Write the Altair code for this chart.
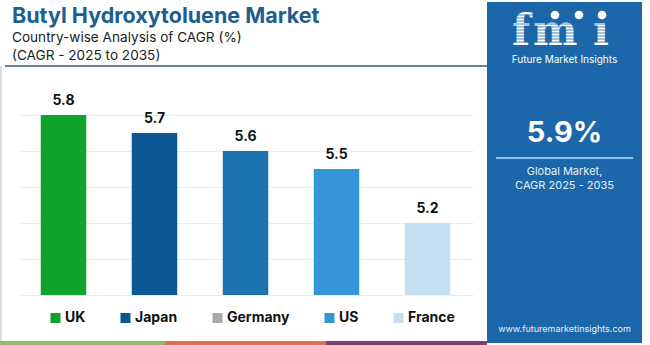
import altair as alt
import pandas as pd

# ---- data ----
countries = ["UK", "Japan", "Germany", "US", "France"]
cagr = [5.8, 5.7, 5.6, 5.5, 5.2]
bar_colors = ["#0fa32e", "#0b5894", "#1d72b0", "#3495d7", "#c3dff1"]
legend_colors = ["#0fa32e", "#0b5894", "#a9a9a9", "#3495d7", "#c3dff1"]
grid_ticks = [4.8, 5.0, 5.2, 5.4, 5.6, 5.8]
y_domain = [4.8, 6.0]

title_text = "Butyl Hydroxytoluene Market"
subtitle_lines = ["Country-wise Analysis of CAGR (%)", "(CAGR - 2025 to 2035)"]
global_cagr = "5.9%"
panel_lines = ["Global Market,", "CAGR 2025 - 2035"]
brand = "Future Market Insights"
website = "www.futuremarketinsights.com"
stripe_colors = ["#8dbf62", "#e16f4e", "#7b3b7d"]

FONT = "Inter"
PANEL = "#1b67a9"

df = pd.DataFrame({"country": countries, "cagr": cagr, "fill": bar_colors})
one = pd.DataFrame({"k": [0]})

x_enc = alt.X("country:N", sort=countries,
              scale=alt.Scale(paddingInner=0.5, paddingOuter=0.25), axis=None)
y_enc = alt.Y("cagr:Q", scale=alt.Scale(domain=y_domain, zero=False, nice=False),
              axis=alt.Axis(values=grid_ticks, labels=False, ticks=False, domain=False,
                            title=None, grid=True, gridColor="#ececec", gridWidth=1))

bars = alt.Chart(df).mark_bar().encode(
    x=x_enc, y=y_enc, y2=alt.datum(4.8),
    fill=alt.Fill("fill:N", scale=None),
)

labels = alt.Chart(df).mark_text(
    dy=-10, baseline="alphabetic", font=FONT, fontSize=14, fontWeight="bold", color="#111111"
).encode(x=alt.X("country:N", sort=countries), y="cagr:Q", text=alt.Text("cagr:Q", format=".1f"))

legend_layer = alt.Chart(df).mark_square(opacity=0).encode(
    x=alt.X("country:N", sort=countries), y="cagr:Q",
    color=alt.Color("country:N", sort=countries,
                    scale=alt.Scale(domain=countries, range=legend_colors),
                    legend=alt.Legend(orient="none", legendX=30.5, legendY=232,
                                      direction="horizontal", title=None,
                                      symbolType="square", symbolSize=100,
                                      symbolOpacity=1, symbolStrokeWidth=0,
                                      labelFont=FONT, labelFontSize=14,
                                      labelFontWeight="bold", labelColor="#111111",
                                      labelOffset=2.5, columnPadding=33)),
)


def txt(s, x, y, size, color, weight="normal", align="left", font=FONT):
    return alt.Chart(one).mark_text(
        align=align, baseline="alphabetic", font=font, fontSize=size,
        fontWeight=weight, color=color
    ).encode(x=alt.value(x), y=alt.value(y), text=alt.value(s))


def rule(x, x2, y, y2, color, width):
    return alt.Chart(one).mark_rule(color=color, strokeWidth=width).encode(
        x=alt.value(x), x2=alt.value(x2), y=alt.value(y), y2=alt.value(y2))


def rect(x, x2, y, y2, color):
    return alt.Chart(one).mark_rect(color=color).encode(
        x=alt.value(x), x2=alt.value(x2), y=alt.value(y), y2=alt.value(y2))


layers = []
# headline
layers.append(txt(title_text, -6, -56, 21.5, "#1c5e8e", "bold"))
layers.append(txt(subtitle_lines[0], -6, -37.5, 13.6, "#222222"))
layers.append(txt(subtitle_lines[1], -6, -19.5, 13.6, "#222222"))
layers.append(rule(-13, 469, -13, -13, "#2f5d7c", 1.5))
# left border
layers.append(rule(-17, -17, -13, 262, "#dedede", 2))
# bottom stripes
sx = [-18, 147, 308, 469]
for i, c in enumerate(stripe_colors):
    layers.append(rect(sx[i], sx[i + 1], 262, 266, c))

# right panel
layers.append(rect(469, 624, -77, 264, PANEL))
# logo letters
layers.append(txt("f", 494, -34, 42, "white", "bold", font="DejaVu Serif"))
layers.append(txt("m", 515, -34, 42, "white", "bold", font="DejaVu Serif"))
layers.append(txt("\u0131", 575, -34, 42, "white", "bold", font="DejaVu Serif"))
for yy in range(-64, -34, 3):
    layers.append(rule(490, 598, yy, yy, PANEL, 0.8))
for cx in [537, 561, 584]:
    layers.append(alt.Chart(one).mark_circle(color="white", opacity=1, size=75).encode(
        x=alt.value(cx), y=alt.value(-64)))
layers.append(txt(brand, 546.5, -16, 10, "white", align="center"))
layers.append(txt(global_cagr, 546.5, 63, 29, "white", "bold", align="center"))
layers.append(rule(478, 615, 79, 79, "#8cc4ec", 2))
layers.append(txt(panel_lines[0], 546.5, 96, 11, "#e6f0f8", align="center"))
layers.append(txt(panel_lines[1], 546.5, 110, 11, "#e6f0f8", align="center"))
layers.append(txt(website, 546.5, 253, 9, "#e6f0f8", align="center"))

chart = alt.layer(bars, labels, legend_layer, *layers).properties(
    width=455, height=216,
    autosize=alt.AutoSizeParams(type="none"),
    padding={"left": 18, "top": 79, "right": 177, "bottom": 50},
    background="white",
).configure_view(stroke=None)

chart.save("out.html", embed_options={"renderer": "svg", "actions": False})
